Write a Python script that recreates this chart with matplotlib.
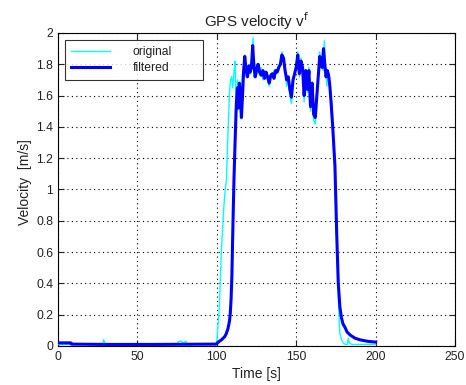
import matplotlib
matplotlib.use("Agg")
import matplotlib.pyplot as plt

# ---- data ----
t_orig = [0, 10, 20, 28, 28.7, 29.5, 30.5, 40, 60, 75, 76, 77.5, 79, 80.5, 81.5, 90, 99.5,
          100, 100.5, 101.4, 103, 104.5, 105.5, 106, 106.5, 107.3, 108, 108.6, 109.3, 110,
          110.8, 111.5, 112, 112.5, 113, 113.8, 114.5, 115.3, 116, 117, 117.6, 118.5, 119.5,
          120.5, 121.3, 122, 122.8, 123.5, 124.3, 125, 126, 127, 128, 129, 130, 131, 132,
          133, 134, 135, 136, 137, 138, 139, 140, 141, 142, 143, 144, 145, 146, 147, 148,
          149, 150, 151, 152, 153, 154, 155, 156, 157, 158, 159, 160, 161, 162, 163, 164,
          164.7, 165.5, 166.3, 167, 167.7, 168.5, 169.3, 170, 171, 171.8, 172.5, 173,
          174, 175, 175.8, 176.5, 177, 177.5, 178.5, 179.5, 181, 182.2, 182.8, 183.5, 185,
          190, 195, 200]
v_orig = [0.01, 0.01, 0.01, 0.01, 0.04, 0.02, 0.01, 0.01, 0.01, 0.01, 0.03, 0.03, 0.02,
          0.03, 0.01, 0.01, 0.01,
          0.03, 0.10, 0.21, 0.63, 0.90, 1.02, 1.05, 1.20, 1.44, 1.62, 1.70, 1.72, 1.65,
          1.75, 1.82, 1.60, 1.52, 1.70, 1.62, 1.55, 1.45, 1.72, 1.80, 1.86, 1.72, 1.76,
          1.80, 1.74, 1.84, 1.97, 1.72, 1.74, 1.80, 1.76, 1.73, 1.78, 1.70, 1.76, 1.72, 1.70,
          1.66, 1.74, 1.72, 1.76, 1.73, 1.77, 1.76, 1.80, 1.88, 1.84, 1.78, 1.66, 1.72, 1.60,
          1.55, 1.68, 1.74, 1.80, 1.88, 1.72, 1.84, 1.78, 1.56, 1.74, 1.62, 1.78, 1.50, 1.66,
          1.44, 1.42, 1.56, 1.72,
          1.88, 1.84, 1.80, 1.76, 1.95, 1.78, 1.66, 1.76, 1.72, 1.58, 1.56, 1.40,
          1.20, 0.85, 0.55, 0.35, 0.18, 0.08, 0.04, 0.02, 0.01, 0.01, 0.05, 0.02, 0.01,
          0.01, 0.01, 0.01]

t_filt = [0, 8, 8.5, 30, 60, 99.5, 101, 103, 105, 106, 107, 108, 108.5, 109, 109.5, 110,
          110.8, 111.5, 112.3, 113, 113.6, 114.2, 114.8, 115.5, 116.2, 116.8, 117.6,
          118.5, 119.3, 120.2, 121, 121.8, 122.6, 123.3, 124.2, 125, 126, 127, 128, 129, 130,
          131, 132, 133, 134, 135, 136, 137, 138, 139, 140, 141, 142, 143, 144, 145, 146, 147,
          148, 149, 150, 151, 152, 153, 154, 155, 156, 157, 158, 159, 160, 161, 162, 163,
          164, 164.8, 165.6, 166.4, 167.2, 168, 168.8, 169.6, 170.4, 171.2, 172, 173,
          174.4, 175.5, 176.5, 177.5, 178.5, 179.5, 180.7, 182, 184, 187, 190, 195, 200]
v_filt = [0.02, 0.02, 0.012, 0.01, 0.01, 0.012, 0.025, 0.04, 0.06, 0.08, 0.11, 0.16, 0.21,
          0.30, 0.45, 0.70, 1.06, 1.30, 1.55, 1.65, 1.52, 1.68, 1.62, 1.46, 1.60, 1.74,
          1.85, 1.76, 1.72, 1.79, 1.75, 1.78, 1.92, 1.80, 1.72, 1.76, 1.80, 1.75, 1.73, 1.76,
          1.71, 1.75, 1.72, 1.68, 1.73, 1.74, 1.71, 1.76, 1.75, 1.78, 1.80, 1.86, 1.84, 1.76,
          1.70, 1.72, 1.64, 1.59, 1.70, 1.74, 1.78, 1.86, 1.74, 1.82, 1.78, 1.60, 1.76, 1.64,
          1.76, 1.53, 1.68, 1.48, 1.46, 1.60, 1.74, 1.85, 1.80, 1.78, 1.90, 1.80, 1.72, 1.76,
          1.73, 1.66, 1.55, 1.40,
          1.15, 0.72, 0.40, 0.25, 0.18, 0.14, 0.12, 0.09, 0.07, 0.05, 0.04, 0.03, 0.025]

x_ticks = [0, 50, 100, 150, 200, 250]
y_ticks = [0, 0.2, 0.4, 0.6, 0.8, 1, 1.2, 1.4, 1.6, 1.8, 2]
y_tick_labels = ["0", "0.2", "0.4", "0.6", "0.8", "1", "1.2", "1.4", "1.6", "1.8", "2"]

# ---- figure ----
plt.rcParams['font.family'] = ['Liberation Sans', 'DejaVu Sans']
txt = '#222222'
W, H = 466, 385
fig = plt.figure(figsize=(W / 100, H / 100), dpi=100)
ax_l, ax_r, ax_t, ax_b = 58, 455, 33, 346
ax = fig.add_axes([ax_l / W, (H - ax_b) / H, (ax_r - ax_l) / W, (ax_b - ax_t) / H])

ax.plot(t_orig, v_orig, color='#00ffff', lw=1.0, label='original', zorder=3)
ax.plot(t_filt, v_filt, color='#0000ff', lw=2.2, label='filtered', zorder=4)

ax.set_xlim(0, 250)
ax.set_ylim(0, 2)
ax.set_xticks(x_ticks)
ax.set_yticks(y_ticks)
ax.set_yticklabels(y_tick_labels)
ax.grid(True, color='black', linestyle=(0, (1, 3)), linewidth=0.8)
ax.tick_params(direction='in', top=True, right=True, length=4, labelsize=8.7,
               colors=txt, width=0.8)
for s in ax.spines.values():
    s.set_color('black')
    s.set_linewidth(0.8)

ax.set_xlabel('Time [s]', fontsize=10, color=txt, labelpad=3)
ax.set_ylabel('Velocity  [m/s]', fontsize=10, color=txt)
ax.yaxis.set_label_coords((32 - ax_l) / (ax_r - ax_l), (ax_b - 182) / (ax_b - ax_t))
ax.set_title('GPS velocity v$^{\\mathrm{f}}$', fontsize=11, color=txt, pad=4)

# legend box: px 65..203 horizontally, top at 40
bx0 = (65 - ax_l) / (ax_r - ax_l)
bx1 = (203 - ax_l) / (ax_r - ax_l)
by_top = (ax_b - 40) / (ax_b - ax_t)
leg = ax.legend(loc='upper left', bbox_to_anchor=(bx0, by_top - 0.2, bx1 - bx0, 0.2),
                mode='expand', borderaxespad=0, fontsize=8.7, frameon=True,
                fancybox=False, handlelength=3.2, handletextpad=1.9,
                borderpad=0.5, labelspacing=0.35)
leg.get_frame().set_edgecolor('black')
leg.get_frame().set_linewidth(0.8)
for tx in leg.get_texts():
    tx.set_color(txt)

fig.savefig('out.png', dpi=100, facecolor='white')
